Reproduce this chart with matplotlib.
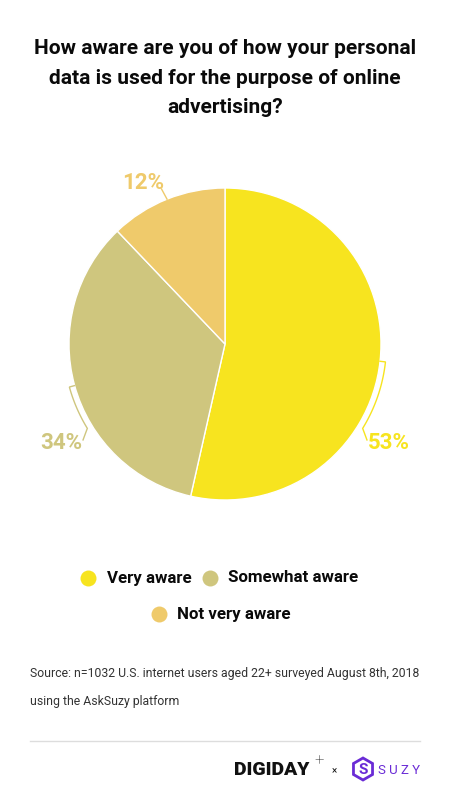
import numpy as np
import matplotlib
matplotlib.use("Agg")
import matplotlib.pyplot as plt
from matplotlib.patches import RegularPolygon

plt.rcParams['font.family'] = ['Roboto', 'DejaVu Sans']

# ---- data ----
categories = ["Very aware", "Somewhat aware", "Not very aware"]
values = [53, 34, 12]
colors = ["#F7E41F", "#CFC67E", "#EFCA6B"]
title = "How aware are you of how your personal\ndata is used for the purpose of online\nadvertising?"
source = ["Source: n=1032 U.S. internet users aged 22+ surveyed August 8th, 2018",
          "using the AskSuzy platform"]

W, H = 450, 801
fig = plt.figure(figsize=(W / 100, H / 100), dpi=100)
fig.patch.set_facecolor("white")

# overlay axes in pixel coordinates for text
ov = fig.add_axes([0, 0, 1, 1])
ov.set_xlim(0, W)
ov.set_ylim(H, 0)
ov.axis("off")

# pie axes
cx, cy, R = 225, 344, 156
pax = fig.add_axes([(cx - R) / W, (H - cy - R) / H, 2 * R / W, 2 * R / H])
wedges, _ = pax.pie(values, colors=colors, startangle=90, counterclock=False,
                    wedgeprops=dict(edgecolor="white", linewidth=1))
pax.set_xlim(-1, 1)
pax.set_ylim(-1, 1)
pax.set_aspect("auto")
pax.axis("off")

def pol(r, ang):
    a = np.deg2rad(ang)
    return r * np.cos(a), r * np.sin(a)

# label leaders: (end angle of arc, label anchor in pie units, ha)
leader = [
    dict(end=-31.5, lab=(0.915, -0.635), ha="left"),
    dict(end=211.5, lab=(-0.915, -0.635), ha="right"),
    dict(end=None, lab=(-0.525, 1.03), ha="center"),
]
ro = 1.035
for w, v, c, L in zip(wedges, values, colors, leader):
    mid = (w.theta1 + w.theta2) / 2
    if L["end"] is not None:
        d = ((L["end"] - mid + 180) % 360) - 180
        x0, y0 = pol(1.0, mid)
        angs = np.linspace(mid, mid + d, 40)
        ax_, ay_ = pol(ro, angs)
        xs = [x0] + list(ax_)
        ys = [y0] + list(ay_)
        lx, ly = L["lab"]
        xs.append(lx + (-0.005 if L["ha"] == "left" else 0.005))
        ys.append(ly + 0.02)
        pax.plot(xs, ys, color=c, lw=1, clip_on=False, solid_joinstyle="miter")
        pax.text(lx, ly, f"{v}%", color=c, fontsize=16, fontweight="bold",
                 ha=L["ha"], va="center", clip_on=False)
    else:
        x0, y0 = pol(1.0, mid)
        pax.plot([x0, x0 - 0.035], [y0, y0 + 0.065], color=c, lw=1, clip_on=False)
        lx, ly = L["lab"]
        pax.text(lx, ly, f"{v}%", color=c, fontsize=16, fontweight="bold",
                 ha="center", va="center", clip_on=False)

# title
ov.text(225, 78, title, ha="center", va="center", fontsize=15, fontweight="bold",
        color="#0A0A0A", linespacing=1.68)

# legend
leg_pos = [(88, 578, 107), (210, 578, 228), (159, 614, 177)]
for cat, c, (mx, my, tx) in zip(categories, colors, leg_pos):
    ov.plot([mx], [my], "o", ms=11.5, color=c, mec="none")
    ov.text(tx, my, cat, ha="left", va="center", fontsize=12.2, fontweight="bold",
            color="#0A0A0A")

# source
ov.text(30, 674, source[0], ha="left", va="center", fontsize=8.8, color="#333333")
ov.text(30, 702, source[1], ha="left", va="center", fontsize=8.8, color="#333333")

# separator
ov.plot([30, 420], [741, 741], color="#DDDDDD", lw=1)

# logos
ov.text(234, 770, "DIGIDAY", ha="left", va="center", fontsize=14, fontweight="black",
        color="#111111")
ov.text(314, 761, "+", ha="left", va="center", fontsize=12, fontweight="light", color="#111111")
ov.text(332, 771, "×", ha="left", va="center", fontsize=7, color="#111111")
hexa = RegularPolygon((363, 769), numVertices=6, radius=11, orientation=0,
                      fill=False, ec="#6A2BD6", lw=2)
ov.add_patch(hexa)
ov.text(363, 770, "S", ha="center", va="center", fontsize=11, fontweight="bold", color="#6A2BD6")
ov.text(378, 770, "S U Z Y", ha="left", va="center", fontsize=9.5, color="#6A2BD6")

fig.savefig("out.png", dpi=100, facecolor="white")
